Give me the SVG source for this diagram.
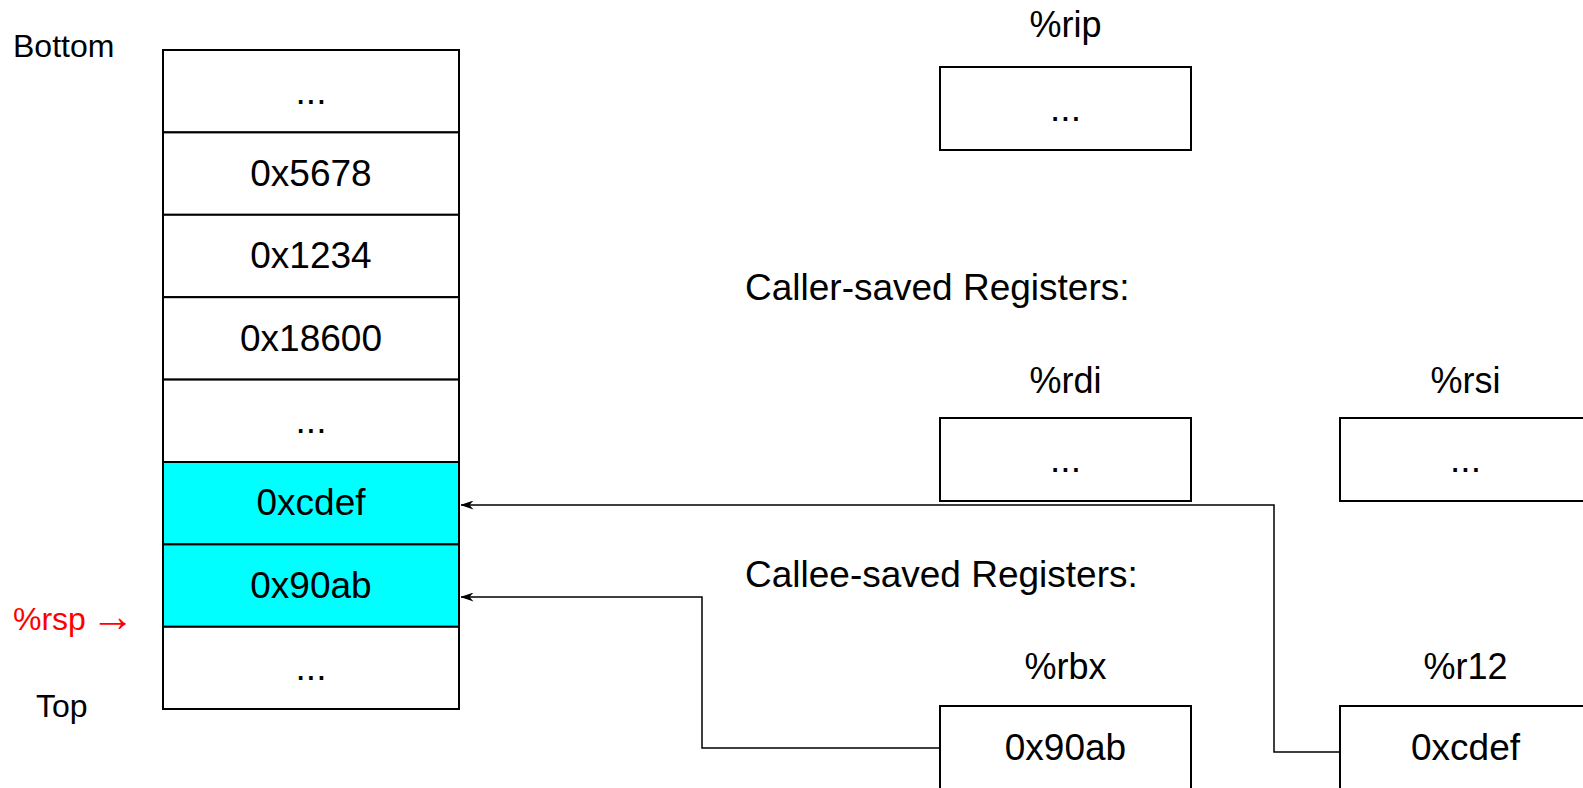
<svg xmlns="http://www.w3.org/2000/svg" width="1583" height="788" viewBox="0 0 1583 788">
<style>
text{font-family:"Liberation Sans",Arial,Helvetica,sans-serif;fill:#000}
.cell{fill:#fff;stroke:#000;stroke-width:2}
.hot{fill:#00ffff;stroke:#000;stroke-width:2}
.reg{fill:#fff;stroke:#000;stroke-width:2}
.v{font-size:37px;text-anchor:middle}
.lbl{font-size:36px;text-anchor:middle}
.side{font-size:32px}
.head{font-size:37px}
.conn{fill:none;stroke:#000;stroke-width:1.5}
</style>
<defs>
<marker id="arr" viewBox="0 0 13 9" refX="12.5" refY="4.5" markerWidth="13" markerHeight="9" markerUnits="userSpaceOnUse" orient="auto">
<path d="M13,4.5 L0,0 L4,4.5 L0,9 Z" fill="#000"/>
</marker>
</defs>
<rect width="1583" height="788" fill="#fff"/>

<g id="labels">
<text class="side" x="13" y="630" style="fill:#ff0000">%rsp <tspan dx="-4" dy="1" style="font-size:44px">→</tspan></text>
<text class="side" x="13" y="57">Bottom</text>
<text class="side" x="36" y="717">Top</text>
<text class="head" x="745" y="300">Caller-saved Registers:</text>
<text class="head" x="745" y="587">Callee-saved Registers:</text>
</g>

<g id="stack">
<g id="cell0"><rect class="cell" x="163" y="50" width="296" height="82.4"/><text class="v" x="311" y="104">...</text></g>
<g id="cell1"><rect class="cell" x="163" y="132.4" width="296" height="82.4"/><text class="v" x="311" y="186">0x5678</text></g>
<g id="cell2"><rect class="cell" x="163" y="214.8" width="296" height="82.4"/><text class="v" x="311" y="268">0x1234</text></g>
<g id="cell3"><rect class="cell" x="163" y="297.2" width="296" height="82.4"/><text class="v" x="311" y="351">0x18600</text></g>
<g id="cell4"><rect class="cell" x="163" y="379.6" width="296" height="82.4"/><text class="v" x="311" y="433">...</text></g>
<g id="cell5"><rect class="hot" x="163" y="462" width="296" height="82.4"/><text class="v" x="311" y="515">0xcdef</text></g>
<g id="cell6"><rect class="hot" x="163" y="544.4" width="296" height="82.4"/><text class="v" x="311" y="598">0x90ab</text></g>
<g id="cell7"><rect class="cell" x="163" y="626.8" width="296" height="82.2"/><text class="v" x="311" y="680">...</text></g>
</g>

<g id="rip"><text class="lbl" x="1065.5" y="37">%rip</text><rect class="reg" x="940" y="67" width="251" height="83"/><text class="v" x="1065.5" y="121">...</text></g>
<g id="rdi"><text class="lbl" x="1065.5" y="393">%rdi</text><rect class="reg" x="940" y="418" width="251" height="83"/><text class="v" x="1065.5" y="472">...</text></g>
<g id="rsi"><text class="lbl" x="1465.5" y="393">%rsi</text><rect class="reg" x="1340" y="418" width="251" height="83"/><text class="v" x="1465.5" y="472">...</text></g>
<g id="rbx"><text class="lbl" x="1065.5" y="679">%rbx</text><rect class="reg" x="940" y="706" width="251" height="83"/><text class="v" x="1065.5" y="760">0x90ab</text></g>
<g id="r12"><text class="lbl" x="1465.5" y="679">%r12</text><rect class="reg" x="1340" y="706" width="251" height="83"/><text class="v" x="1465.5" y="760">0xcdef</text></g>

<g id="connectors">
<path class="conn" d="M940,748 H702 V597 H461" marker-end="url(#arr)"/>
<path class="conn" d="M1340,752 H1274 V505 H461" marker-end="url(#arr)"/>
</g>
</svg>
